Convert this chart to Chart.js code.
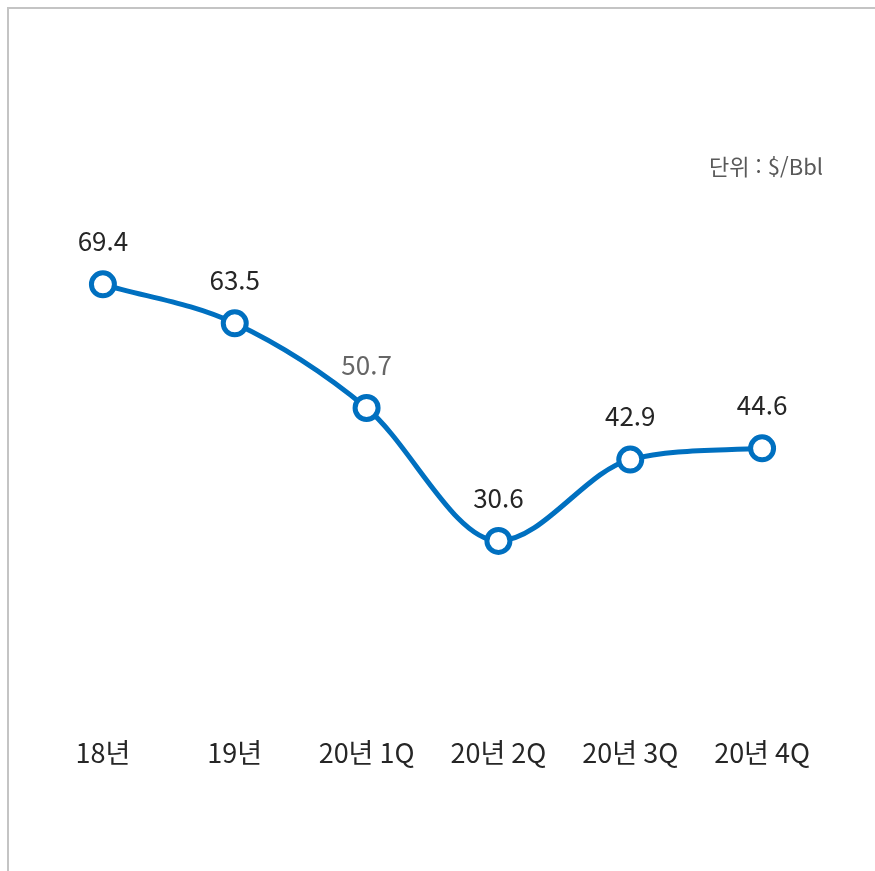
<!DOCTYPE html>
<html lang="ko">
<head>
<meta charset="utf-8">
<script src="https://cdn.jsdelivr.net/npm/chart.js@4.4.1/dist/chart.umd.min.js"></script>
<style>
    html, body { margin: 0; padding: 0; background: #fff; }
    #wrap { position: relative; width: 875px; height: 871px; }
    #canvas { position: absolute; left: 0; top: 0; }
    .frame {
        position: absolute; left: 7px; top: 7px; right: 0; bottom: 0;
        border-top: 2px solid #c4c4c4; border-left: 2px solid #c4c4c4;
        pointer-events: none;
    }
    .unit {
        position: absolute; right: 52px; top: 150px;
        font-family: "Noto Sans CJK KR", "Noto Sans", sans-serif;
        font-size: 22px; color: #595959; line-height: 30px;
    }
</style>
</head>
<body>
<div id="wrap">
    <canvas id="canvas" width="875" height="871"></canvas>
    <div class="frame"></div>
    <div class="unit">단위 : $/Bbl</div>
</div>
<script>
"use strict";

const labels = ['18년', '19년', '20년 1Q', '20년 2Q', '20년 3Q', '20년 4Q'];
const prices = [69.4, 63.5, 50.7, 30.6, 42.9, 44.6];
const labelColors = ['#262626', '#262626', '#666666', '#262626', '#262626', '#262626'];

const FONT = '"Noto Sans CJK KR", "Noto Sans", sans-serif';

// value text above every point
const valueLabels = {
    id: 'valueLabels',
    afterDatasetsDraw(chart) {
        const ctx = chart.ctx;
        const meta = chart.getDatasetMeta(0);
        ctx.save();
        ctx.font = '26px ' + FONT;
        ctx.textAlign = 'center';
        ctx.textBaseline = 'middle';
        meta.data.forEach(function (pt, i) {
            ctx.fillStyle = labelColors[i];
            ctx.fillText(prices[i].toFixed(1), pt.x, pt.y - 43);
        });
        ctx.restore();
    }
};

window.onload = function () {
    const ctx = document.getElementById('canvas').getContext('2d');
    window.myLine = new Chart(ctx, {
        type: 'line',
        data: {
            labels: labels,
            datasets: [{
                label: 'Price',
                data: prices,
                borderColor: '#0070c0',
                borderWidth: 5,
                cubicInterpolationMode: 'monotone',
                pointRadius: 11.5,
                pointBorderWidth: 5,
                pointBackgroundColor: '#ffffff',
                pointBorderColor: '#0070c0',
                fill: false
            }]
        },
        options: {
            responsive: false,
            animation: false,
            layout: {
                padding: { left: 37, right: 47, top: 82, bottom: 102 }
            },
            plugins: {
                legend: { display: false },
                title: { display: false },
                tooltip: { enabled: false }
            },
            scales: {
                x: {
                    offset: true,
                    grid: { display: false, drawTicks: false },
                    border: { display: false },
                    ticks: {
                        padding: 0,
                        color: '#262626',
                        font: { family: FONT, size: 27, lineHeight: 1.2 }
                    }
                },
                y: {
                    display: false,
                    min: 1,
                    max: 100
                }
            }
        },
        plugins: [valueLabels]
    });
};
</script>
</body>
</html>
